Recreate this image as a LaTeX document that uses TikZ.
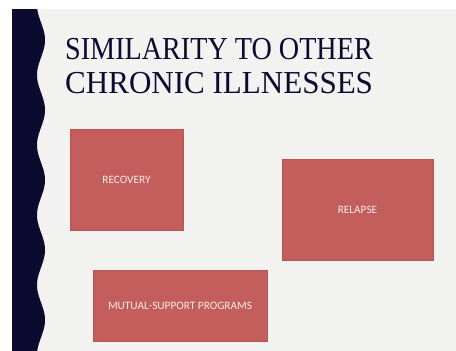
\documentclass[tikz,border=0pt]{standalone}
\usepackage{fontspec}
\usepackage{xcolor}
\usepackage{tikz}
\usetikzlibrary{positioning}

\newfontfamily\titlefont[FakeStretch=0.88]{Liberation Serif}
\newfontfamily\titlefontwide[FakeStretch=0.97]{Liberation Serif}
\newfontfamily\boxfont{Carlito}

\definecolor{slidegray}{RGB}{242,242,241}
\definecolor{bandnavy}{RGB}{12,10,46}
\definecolor{boxred}{RGB}{196,94,92}
\definecolor{boxedge}{RGB}{181,84,82}
\definecolor{boxtext}{RGB}{246,236,236}

\tikzset{
    titleline/.style={anchor=base west, inner sep=0pt, text=bandnavy, font=\titlefont\fontsize{32}{34}\selectfont},
    pinkbox/.style={draw=boxedge, line width=0.6pt, fill=boxred, text=boxtext, inner sep=0pt, font=\boxfont\fontsize{11.3}{13}\selectfont}
}

\begin{document}
\begin{tikzpicture}[x=1pt, y=-1pt]
        \useasboundingbox (0,0) rectangle (456,351);
        \fill[white] (0,0) rectangle (456,351);
        \fill[slidegray] (12,9) rectangle (456,351);
        \fill[bandnavy] (12,9) -- plot[domain=9:351, samples=140, variable=\t] ({41+4*cos(5.142857*(\t-40))}, \t) -- (12,351) -- cycle;

        \node[titleline] (line1) at (65,59) {SIMILARITY TO OTHER};
        \node[titleline, font=\titlefontwide\fontsize{32}{34}\selectfont] (line2) at (65,93) {CHRONIC ILLNESSES};

        \node[pinkbox, minimum width=113pt, minimum height=101pt] (recovery) at (126.5,179.5) {RECOVERY};
        \node[pinkbox, minimum width=151pt, minimum height=101pt] (relapse) at (357.5,209.5) {RELAPSE};
        \node[pinkbox, minimum width=174pt, minimum height=71pt] (mutual) at (180,305.5) {MUTUAL-SUPPORT PROGRAMS};
    \end{tikzpicture}
\end{document}
